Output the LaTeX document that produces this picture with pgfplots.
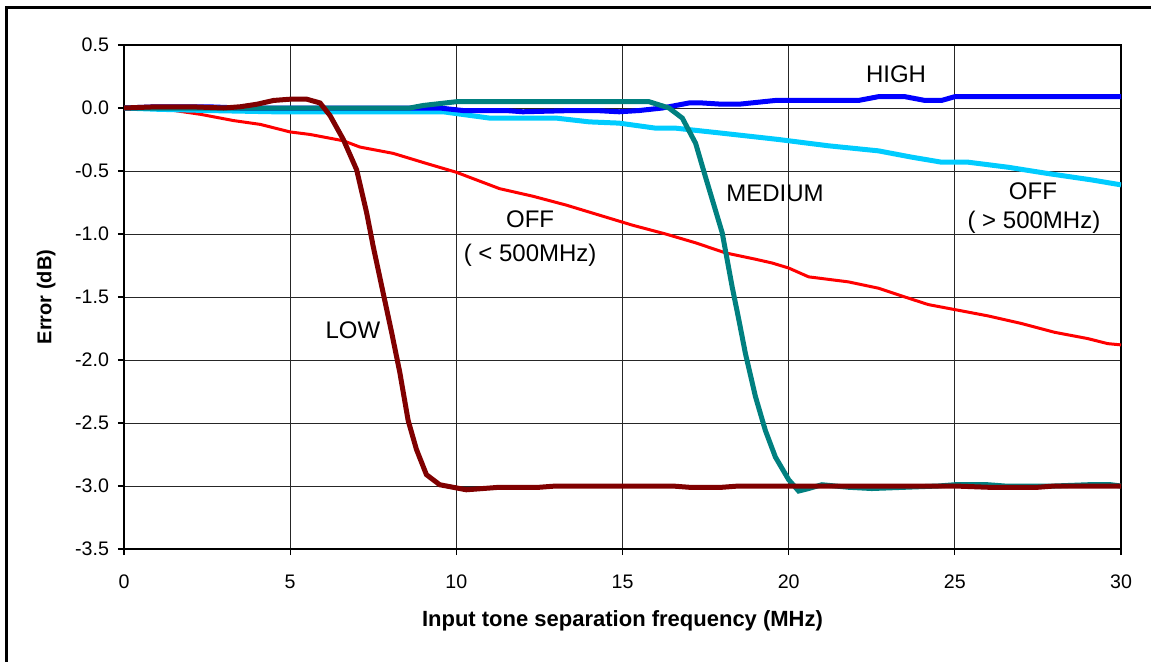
\documentclass[border=0pt]{standalone}
\usepackage{pgfplots}
\pgfplotsset{compat=1.18}
\usepackage{fontspec}
\setmainfont{Liberation Sans}
\definecolor{lowc}{HTML}{800000}
\definecolor{medc}{HTML}{008080}
\definecolor{highc}{HTML}{0000FF}
\definecolor{offhi}{HTML}{00CCFF}
\definecolor{offlo}{HTML}{FF0000}
\begin{document}
\begin{tikzpicture}
\useasboundingbox (0,0) rectangle (575.5pt,330.5pt);
\draw[line width=1.5pt] (3pt,-2pt) -- (3pt,327pt) -- (580pt,327pt);
\begin{axis}[
  at={(62pt,56pt)}, anchor=south west,
  scale only axis, width=498.5pt, height=252pt,
  xmin=0, xmax=30, ymin=-3.5, ymax=0.5,
  xtick={0,5,...,30}, ytick={-3.5,-3,...,0.5},
  y tick label style={/pgf/number format/fixed, /pgf/number format/fixed zerofill, /pgf/number format/precision=1, xshift=-1pt},
  /pgf/number format/assume math mode=true,
  tick label style={font=\fontsize{9.8pt}{11pt}\selectfont},
  x tick label style={yshift=-6.5pt},
  grid=major, major grid style={black!85, line width=0.5pt},
  tick align=outside, major tick length=3pt, tick style={black, line width=0.6pt},
  xtick pos=bottom, ytick pos=left,
  axis line style={black, line width=1pt},
  xlabel={\bfseries Input tone separation frequency (MHz)},
  ylabel={\bfseries Error (dB)},
  xlabel style={font=\fontsize{11pt}{12pt}\selectfont, yshift=-4pt},
  ylabel style={font=\fontsize{10pt}{12pt}\selectfont, yshift=3pt},
  clip=true,
]
% OFF (<500MHz) red
\addplot[offlo, line width=1.5pt] coordinates {
(0,0) (1,0) (2.3,-0.05) (3.3,-0.1) (4.1,-0.13) (5.0,-0.19) (5.6,-0.21) (6.6,-0.26) (7.1,-0.31) (8.1,-0.36) (8.6,-0.40) (9.1,-0.44) (10.0,-0.51) (11.3,-0.64) (12.3,-0.70) (13.3,-0.77) (14.3,-0.85) (15.3,-0.93) (16.3,-1.0) (17.2,-1.07) (18.1,-1.15) (19.0,-1.20) (19.5,-1.23) (20.0,-1.27) (20.6,-1.34) (21.2,-1.36) (21.8,-1.38) (22.7,-1.43) (23.5,-1.50) (24.2,-1.56) (25.0,-1.60) (26.0,-1.65) (27.0,-1.71) (28.0,-1.78) (29.0,-1.83) (29.6,-1.87) (30,-1.88)
};
% OFF (>500MHz) cyan
\addplot[offhi, line width=2.5pt] coordinates {
(0,0) (1,-0.01) (2.5,-0.02) (4.5,-0.03) (7.7,-0.03) (9.6,-0.03) (11.0,-0.08) (13.0,-0.08) (14.0,-0.11) (14.9,-0.12) (16.0,-0.16) (16.6,-0.16) (18.0,-0.20) (19.7,-0.25) (21.2,-0.30) (22.7,-0.34) (23.7,-0.39) (24.6,-0.43) (25.4,-0.43) (26.6,-0.47) (27.8,-0.52) (29.1,-0.57) (30,-0.61)
};
% HIGH blue
\addplot[highc, line width=2.5pt] coordinates {
(0,0) (1,0.01) (2.5,0.01) (3.5,0.0) (7.7,0.0) (9.5,0.0) (10.2,-0.02) (11.5,-0.02) (12.0,-0.03) (13.5,-0.02) (14.2,-0.02) (14.9,-0.03) (15.5,-0.02) (16.2,0.0) (17.0,0.04) (17.4,0.04) (18.0,0.03) (18.5,0.03) (19.6,0.06) (22.1,0.06) (22.7,0.09) (23.5,0.09) (24.1,0.06) (24.6,0.06) (25.0,0.09) (30,0.09)
};
% MEDIUM teal
\addplot[medc, line width=2.5pt] coordinates {
(0,0) (8.6,0.0) (9.0,0.02) (10.0,0.05) (15.8,0.05) (16.4,0.0) (16.8,-0.08) (17.2,-0.28) (17.5,-0.55) (18.0,-0.99) (18.3,-1.42) (18.5,-1.68) (18.7,-1.95) (19.0,-2.29) (19.3,-2.56) (19.6,-2.77) (20.0,-2.95) (20.3,-3.04) (20.6,-3.02) (21.0,-2.99) (21.8,-3.01) (22.5,-3.02) (23.5,-3.01) (24.5,-3.0) (25.0,-2.99) (26.0,-2.99) (26.5,-3.0) (28.0,-3.0) (29.0,-2.99) (29.7,-2.99) (30,-3.0)
};
% LOW dark red
\addplot[lowc, line width=2.5pt] coordinates {
(0,0) (1,0.01) (2,0.01) (3,0.0) (3.5,0.01) (4.0,0.03) (4.5,0.06) (5.0,0.07) (5.5,0.07) (5.9,0.04) (6.2,-0.06) (6.6,-0.25) (7.0,-0.49) (7.3,-0.83) (7.5,-1.1) (7.8,-1.47) (8.06,-1.79) (8.3,-2.1) (8.55,-2.48) (8.8,-2.71) (9.1,-2.91) (9.5,-2.99) (10.3,-3.03) (11.3,-3.01) (12.5,-3.01) (13,-3.0) (16.5,-3.0) (17,-3.01) (18,-3.01) (18.5,-3.0) (25,-3.0) (26,-3.01) (27.5,-3.01) (28,-3.0) (30,-3.0)
};
\node[font=\fontsize{12pt}{14pt}\selectfont] at (axis cs:23.23,0.27) {HIGH};
\node[font=\fontsize{12pt}{14pt}\selectfont] at (axis cs:19.59,-0.68) {MEDIUM};
\node[font=\fontsize{12pt}{14pt}\selectfont] at (axis cs:27.35,-0.66) {OFF};
\node[font=\fontsize{12pt}{14pt}\selectfont] at (axis cs:27.38,-0.91) {( > 500MHz)};
\node[font=\fontsize{12pt}{14pt}\selectfont] at (axis cs:12.22,-0.88) {OFF};
\node[font=\fontsize{12pt}{14pt}\selectfont] at (axis cs:12.22,-1.17) {( < 500MHz)};
\node[font=\fontsize{12pt}{14pt}\selectfont] at (axis cs:6.89,-1.76) {LOW};
\end{axis}
\end{tikzpicture}
\end{document}
